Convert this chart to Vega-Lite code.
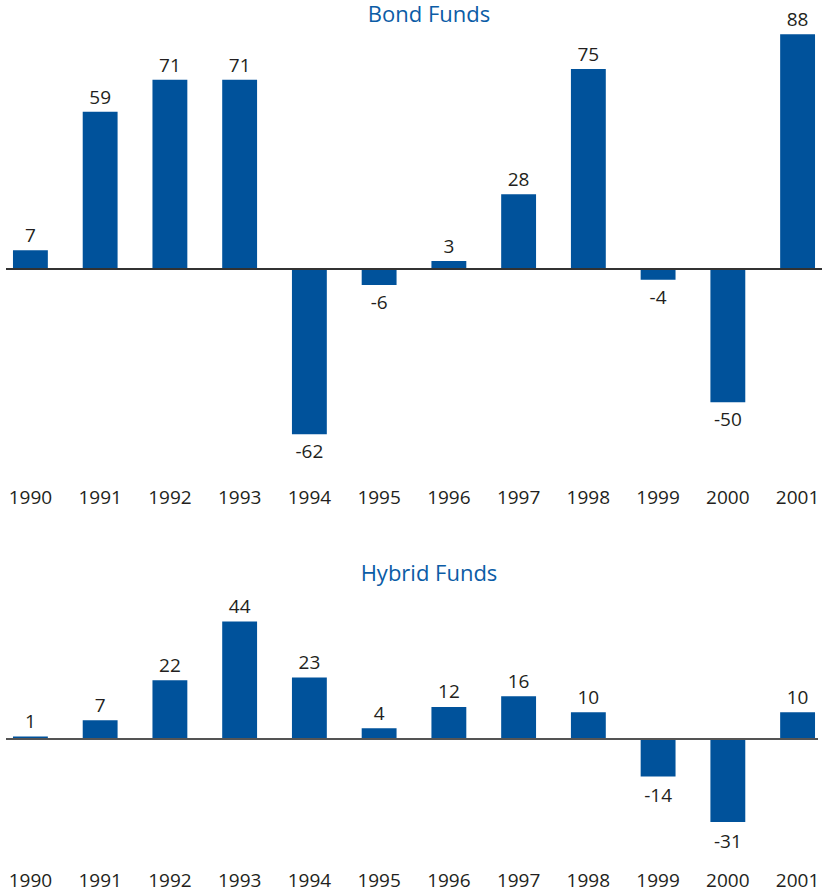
{
  "$schema": "https://vega.github.io/schema/vega-lite/v6.json",
  "padding": {"left": 5, "top": 4, "right": 0, "bottom": 0},
  "background": "white",
  "config": {
    "view": {"stroke": null},
    "font": "Open Sans",
    "axis": {"labelFont": "Open Sans"},
    "title": {"font": "Open Sans"},
    "locale": {"number": {"decimal": ".", "thousands": ",", "grouping": [3], "currency": ["$", ""], "minus": "-"}}
  },
  "datasets": {
    "bond": [
      {"year": "1990", "value": 7},
      {"year": "1991", "value": 59},
      {"year": "1992", "value": 71},
      {"year": "1993", "value": 71},
      {"year": "1994", "value": -62},
      {"year": "1995", "value": -6},
      {"year": "1996", "value": 3},
      {"year": "1997", "value": 28},
      {"year": "1998", "value": 75},
      {"year": "1999", "value": -4},
      {"year": "2000", "value": -50},
      {"year": "2001", "value": 88}
    ],
    "hybrid": [
      {"year": "1990", "value": 1},
      {"year": "1991", "value": 7},
      {"year": "1992", "value": 22},
      {"year": "1993", "value": 44},
      {"year": "1994", "value": 23},
      {"year": "1995", "value": 4},
      {"year": "1996", "value": 12},
      {"year": "1997", "value": 16},
      {"year": "1998", "value": 10},
      {"year": "1999", "value": -14},
      {"year": "2000", "value": -31},
      {"year": "2001", "value": 10}
    ]
  },
  "vconcat": [
    {
      "title": {"text": "Bond Funds", "fontSize": 22, "fontWeight": "normal", "color": "#0b5ca6", "anchor": "middle", "frame": "group", "dx": 15, "dy": 22, "offset": 6},
      "width": 816,
      "height": 440,
      "data": {"name": "bond"},
      "encoding": {
        "x": {"field": "year", "type": "ordinal", "title": null,
              "scale": {"paddingInner": 0.5, "paddingOuter": 0.1},
              "axis": {"domain": false, "ticks": false, "labelAngle": 0, "labelFontSize": 19, "labelColor": "#231f20", "labelPadding": 19.5}},
        "y": {"field": "value", "type": "quantitative", "scale": {"domain": [-75, 90], "nice": false, "zero": true}, "axis": null}
      },
      "layer": [
        {"mark": {"type": "bar", "color": "#00529b"}},
        {"mark": {"type": "rule", "color": "#333333", "strokeWidth": 1.5}, "encoding": {"y": {"datum": 0}, "x": {"value": 0}, "x2": {"value": 816}}},
        {"transform": [{"filter": "datum.value >= 0"}],
         "mark": {"type": "text", "baseline": "alphabetic", "dy": -8, "fontSize": 19, "color": "#231f20"},
         "encoding": {"text": {"field": "value", "type": "quantitative"}}},
        {"transform": [{"filter": "datum.value < 0"}],
         "mark": {"type": "text", "baseline": "top", "dy": 9, "fontSize": 19, "color": "#231f20"},
         "encoding": {"text": {"field": "value", "type": "quantitative"}}}
      ]
    },
    {
      "title": {"text": "Hybrid Funds", "fontSize": 22, "fontWeight": "normal", "color": "#0b5ca6", "anchor": "middle", "frame": "group", "dx": 15, "offset": 6},
      "width": 816,
      "height": 254,
      "data": {"name": "hybrid"},
      "encoding": {
        "x": {"field": "year", "type": "ordinal", "title": null,
              "scale": {"paddingInner": 0.5, "paddingOuter": 0.1},
              "axis": {"domain": false, "ticks": false, "labelAngle": 0, "labelFontSize": 19, "labelColor": "#231f20", "labelPadding": 25}},
        "y": {"field": "value", "type": "quantitative", "scale": {"domain": [-40, 55], "nice": false, "zero": true}, "axis": null}
      },
      "layer": [
        {"mark": {"type": "bar", "color": "#00529b"}},
        {"mark": {"type": "rule", "color": "#555555", "strokeWidth": 1.5}, "encoding": {"y": {"datum": 0}, "x": {"value": 0}, "x2": {"value": 812}}},
        {"transform": [{"filter": "datum.value >= 0"}],
         "mark": {"type": "text", "baseline": "alphabetic", "dy": -8.5, "fontSize": 19, "color": "#231f20"},
         "encoding": {"text": {"field": "value", "type": "quantitative"}}},
        {"transform": [{"filter": "datum.value < 0"}],
         "mark": {"type": "text", "baseline": "top", "dy": 11, "fontSize": 19, "color": "#231f20"},
         "encoding": {"text": {"field": "value", "type": "quantitative"}}}
      ]
    }
  ],
  "spacing": 55
}
